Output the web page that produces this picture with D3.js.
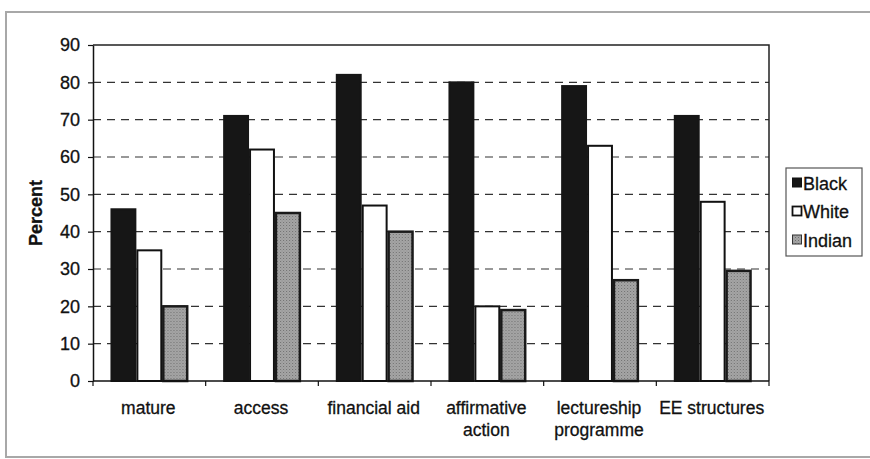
<!DOCTYPE html>
<html>
<head>
<meta charset="utf-8">
<script src="https://cdn.jsdelivr.net/npm/d3@7"></script>
<style>
  html, body { margin: 0; padding: 0; background: #fff; }
  svg { display: block; font-family: Arial, "Liberation Sans", sans-serif; }
  svg text { stroke: #111; stroke-width: 0.3px; }
</style>
</head>
<body>
<svg id="chart" width="870" height="459"></svg>
<script>
// Survey results: percent in favour, by population group
const categories = ["mature", "access", "financial aid", "affirmative action", "lectureship programme", "EE structures"];
const categoryLines = [["mature"], ["access"], ["financial aid"], ["affirmative", "action"], ["lectureship", "programme"], ["EE structures"]];
const seriesNames = ["Black", "White", "Indian"];
const black  = [46, 71, 82, 80, 79, 71];
const white  = [35, 62, 47, 20, 63, 48];
const indian = [20, 45, 40, 19, 27, 29.5];
const yTicks = [0, 10, 20, 30, 40, 50, 60, 70, 80, 90];

const seriesValues = [black, white, indian];

const svg = d3.select("#chart");
const plot = { left: 93, right: 769, top: 45, bottom: 381 };

// Textured grey fill for the Indian series
const defs = svg.append("defs");
const pat = defs.append("pattern")
  .attr("id", "stipple").attr("patternUnits", "userSpaceOnUse")
  .attr("width", 3).attr("height", 3);
pat.append("rect").attr("width", 3).attr("height", 3).attr("fill", "#a6a6a6");
pat.append("rect").attr("x", 0).attr("y", 0).attr("width", 1).attr("height", 1).attr("fill", "#6e6e6e");
pat.append("rect").attr("x", 1.5).attr("y", 1.5).attr("width", 1).attr("height", 1).attr("fill", "#858585");

// Outer chart frame
svg.append("rect")
  .attr("x", 6).attr("y", 12).attr("width", 870).attr("height", 445)
  .attr("fill", "none").attr("stroke", "#a8a8a8").attr("stroke-width", 2);

const x0 = d3.scaleBand().domain(categories)
  .range([plot.left, plot.right]).paddingInner(0.31).paddingOuter(0.155);
const x1 = d3.scaleBand().domain(seriesNames).range([0, x0.bandwidth()]);
const y = d3.scaleLinear().domain([0, 90]).range([plot.bottom, plot.top]);

// Dashed gridlines
svg.append("g").selectAll("line")
  .data(yTicks.filter(t => t > 0 && t < 90))
  .join("line")
  .attr("x1", plot.left).attr("x2", plot.right)
  .attr("y1", d => y(d)).attr("y2", d => y(d))
  .attr("stroke", "#333").attr("stroke-width", 1.2)
  .attr("stroke-dasharray", "8,6");

// Plot area top and right edges
svg.append("path")
  .attr("d", `M${plot.left},${plot.top}H${plot.right}V${plot.bottom}`)
  .attr("fill", "none").attr("stroke", "#222").attr("stroke-width", 1.5);

// Bars
const fills = { Black: "#161616", White: "#ffffff", Indian: "url(#stipple)" };
const strokes = { Black: "#161616", White: "#111", Indian: "#1a1a1a" };
const strokeW = { Black: 2, White: 2, Indian: 2.5 };
const groups = svg.append("g").selectAll("g")
  .data(categories)
  .join("g")
  .attr("transform", d => `translate(${x0(d)},0)`);

groups.selectAll("rect")
  .data((d, i) => seriesNames.map((s, j) => ({ s, v: seriesValues[j][i] })))
  .join("rect")
  .attr("x", d => x1(d.s) + 1)
  .attr("width", x1.bandwidth() - 2)
  .attr("y", d => y(d.v))
  .attr("height", d => y(0) - y(d.v))
  .attr("fill", d => fills[d.s])
  .attr("stroke", d => strokes[d.s])
  .attr("stroke-width", d => strokeW[d.s]);

// Y axis
const yAxis = svg.append("g")
  .attr("transform", `translate(${plot.left},0)`)
  .call(d3.axisLeft(y).tickValues(yTicks).tickSize(5).tickSizeOuter(0).tickPadding(8));
yAxis.select(".domain").attr("stroke", "#111").attr("stroke-width", 1.5);
yAxis.selectAll(".tick line").attr("stroke", "#111").attr("stroke-width", 1.2);
yAxis.selectAll(".tick text")
  .attr("font-size", 18).attr("fill", "#111")
  .attr("font-family", "Arial, 'Liberation Sans', sans-serif");

// X axis with ticks between category groups
const xAxisG = svg.append("g");
xAxisG.append("line")
  .attr("x1", plot.left).attr("x2", plot.right)
  .attr("y1", plot.bottom).attr("y2", plot.bottom)
  .attr("stroke", "#111").attr("stroke-width", 1.5);
const step = x0.step();
xAxisG.selectAll("line.tk")
  .data(d3.range(categories.length + 1))
  .join("line").attr("class", "tk")
  .attr("x1", i => plot.left + i * step).attr("x2", i => plot.left + i * step)
  .attr("y1", plot.bottom).attr("y2", plot.bottom + 5)
  .attr("stroke", "#111").attr("stroke-width", 1.2);

const labels = xAxisG.selectAll("text.cat")
  .data(categories)
  .join("text").attr("class", "cat")
  .attr("text-anchor", "middle")
  .attr("font-size", 17.5).attr("fill", "#111")
  .attr("x", d => x0(d) + x0.bandwidth() / 2 - 1)
  .attr("y", 414);
labels.each(function (d, i) {
  const t = d3.select(this);
  categoryLines[i].forEach((line, k) => {
    t.append("tspan")
      .attr("x", x0(d) + x0.bandwidth() / 2 - 1)
      .attr("dy", k === 0 ? 0 : 22)
      .text(line);
  });
});

// Y axis title
svg.append("text")
  .attr("transform", `translate(42,${(plot.top + plot.bottom) / 2}) rotate(-90)`)
  .attr("text-anchor", "middle")
  .attr("font-size", 18).attr("font-weight", "bold").attr("fill", "#111")
  .text("Percent");

// Legend
const legend = svg.append("g");
legend.append("rect")
  .attr("x", 786).attr("y", 168).attr("width", 76).attr("height", 88)
  .attr("fill", "#fff").attr("stroke", "#555").attr("stroke-width", 1.2);
const items = legend.selectAll("g.item")
  .data(seriesNames)
  .join("g").attr("class", "item")
  .attr("transform", (d, i) => `translate(792,${183 + i * 28.5})`);
items.append("rect")
  .attr("x", 0.5).attr("y", -5).attr("width", 9).attr("height", 9)
  .attr("fill", d => fills[d])
  .attr("stroke", d => d === "Indian" ? "#333" : "#111")
  .attr("stroke-width", d => d === "White" ? 1.8 : 1);
items.append("text")
  .attr("x", 11).attr("y", 6.5)
  .attr("font-size", 18).attr("fill", "#111")
  .text(d => d);
</script>
</body>
</html>
